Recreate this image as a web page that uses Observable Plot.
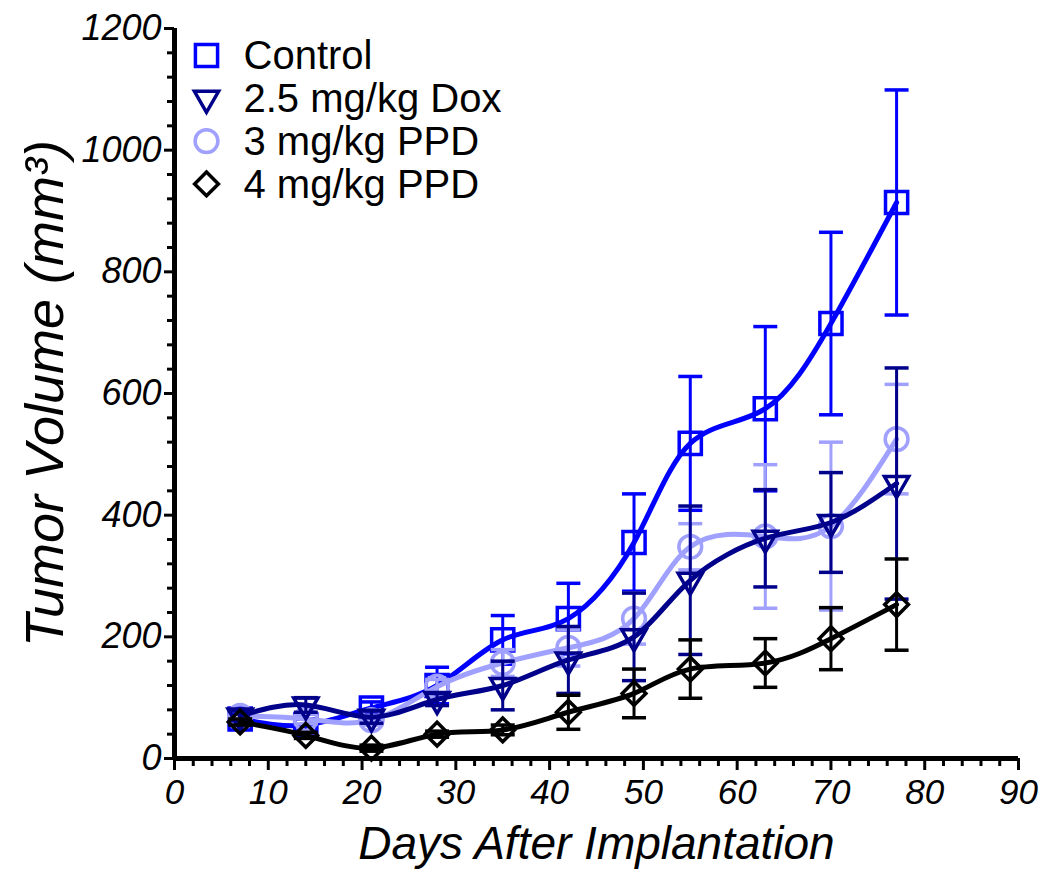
<!DOCTYPE html>
<html>
<head>
<meta charset="utf-8">
<script src="https://cdn.jsdelivr.net/npm/d3@7"></script>
<script src="https://cdn.jsdelivr.net/npm/@observablehq/plot@0.6"></script>
<style>
  html, body { margin: 0; padding: 0; background: #fff; }
  #chart svg { display: block; }
</style>
</head>
<body>
<div id="chart"></div>
<script>
// ---- data ----
const days = [7, 14, 21, 28, 35, 42, 49, 55, 63, 70, 77];

const seriesNames = ["Control", "2.5 mg/kg Dox", "3 mg/kg PPD", "4 mg/kg PPD"];
const seriesColors = ["#0000FF", "#00008B", "#A0A0FF", "#000000"];
const seriesSymbols = ["square", "triangle", "circle", "diamond2"];

const controlMean = [65, 55, 83, 120, 195, 230, 355, 518, 575, 715, 914];
const controlErr  = [8, 10, 10, 30, 40, 58, 80, 110, 135, 150, 185];
const doxMean     = [70, 88, 68, 97, 120, 162, 200, 293, 362, 388, 452];
const doxErr      = [8, 12, 10, 10, 40, 55, 72, 122, 80, 82, 190];
const ppd3Mean    = [70, 65, 63, 118, 157, 182, 230, 348, 365, 382, 525];
const ppd3Err     = [8, 8, 8, 12, 22, 30, 42, 38, 118, 138, 90];
const ppd4Mean    = [60, 38, 17, 40, 47, 76, 107, 147, 157, 197, 253];
const ppd4Err     = [5, 5, 5, 5, 8, 28, 40, 48, 40, 51, 75];

const xTicks = [0, 10, 20, 30, 40, 50, 60, 70, 80, 90];
const yTicks = [0, 200, 400, 600, 800, 1000, 1200];

const xLabel = "Days After Implantation";
const yLabel = "Tumor Volume (mm³)";

// ---- build ----
const means = [controlMean, doxMean, ppd3Mean, ppd4Mean];
const errs = [controlErr, doxErr, ppd3Err, ppd4Err];
const series = seriesNames.map((name, i) => ({
  name, color: seriesColors[i], symbol: seriesSymbols[i],
  rows: days.map((d, j) => ({day: d, v: means[i][j], lo: means[i][j] - errs[i][j], hi: means[i][j] + errs[i][j]}))
}));

const symbolR = {square: 12.5, triangle: 9, circle: 11.4, diamond2: 10.7};
const capSymbol = {
  draw(context, size) {
    const w = Math.sqrt(size / Math.PI);
    context.moveTo(-w, 0);
    context.lineTo(w, 0);
  }
};

const xMinor = d3.range(0, 91, 2).filter(v => v % 10 !== 0);
const yMinor = d3.range(0, 1201, 40).filter(v => v % 200 !== 0);

const drawOrder = [0, 2, 1, 3];
const dataMarks = [];
for (const i of drawOrder) {
  const s = series[i];
  const rot = s.symbol === "triangle" ? 180 : 0;
  dataMarks.push(
    Plot.ruleX(s.rows, {x: "day", y1: "lo", y2: "hi", stroke: s.color, strokeWidth: 3}),
    Plot.dot(s.rows, {x: "day", y: "lo", symbol: capSymbol, r: 12, stroke: s.color, strokeWidth: 3.5}),
    Plot.dot(s.rows, {x: "day", y: "hi", symbol: capSymbol, r: 12, stroke: s.color, strokeWidth: 3.5}),
    Plot.line(s.rows, {x: "day", y: "v", curve: "natural", stroke: s.color, strokeWidth: 5}),
    Plot.dot(s.rows, {x: "day", y: "v", symbol: s.symbol, r: symbolR[s.symbol], stroke: s.color, fill: "none", strokeWidth: 3.5, rotate: rot})
  );
}

const legendMarks = [];
series.forEach((s, i) => {
  const dy = 27 + i * 42.8;
  legendMarks.push(
    Plot.dot([s.name], {frameAnchor: "top-left", dx: 32, dy, symbol: s.symbol, r: symbolR[s.symbol], stroke: s.color, fill: "none", strokeWidth: 3.5, rotate: s.symbol === "triangle" ? 180 : 0}),
    Plot.text([s.name], {text: d => d, frameAnchor: "top-left", dx: 69, dy: dy + 1, textAnchor: "start", lineAnchor: "middle", fontSize: 40, fill: "#000"})
  );
});

const chart = Plot.plot({
  width: 1050,
  height: 885,
  marginLeft: 174,
  marginRight: 32,
  marginTop: 28,
  marginBottom: 127,
  style: {fontFamily: "'Liberation Sans', Arial, sans-serif", background: "#fff", overflow: "visible", color: "#000"},
  x: {domain: [0, 90]},
  y: {domain: [0, 1200]},
  marks: [
    Plot.axisY({ticks: yMinor, tickSize: 7, strokeWidth: 3, tickFormat: () => "", label: null}),
    Plot.axisY({ticks: yTicks, tickSize: 10, tickPadding: 3, strokeWidth: 3, tickFormat: d3.format("d"), fontSize: 36, fontStyle: "italic", label: null}),
    Plot.axisX({ticks: xMinor, tickSize: 8, strokeWidth: 3, tickFormat: () => "", label: null}),
    Plot.axisX({ticks: xTicks, tickSize: 12, tickPadding: 9, strokeWidth: 3, tickFormat: d3.format("d"), fontSize: 35, fontStyle: "italic", label: null}),
    Plot.ruleX([0], {strokeWidth: 5}),
    Plot.ruleY([0], {strokeWidth: 5}),
    ...dataMarks,
    ...legendMarks,
    Plot.text([xLabel], {text: d => d, frameAnchor: "bottom", dy: 86, lineAnchor: "middle", fontSize: 46, fontStyle: "italic"}),
    Plot.text([yLabel], {text: d => d, frameAnchor: "left", dx: -129, rotate: -90, textAnchor: "middle", lineAnchor: "middle", fontSize: 54, fontStyle: "italic"})
  ]
});

document.getElementById("chart").appendChild(chart);
</script>
</body>
</html>
